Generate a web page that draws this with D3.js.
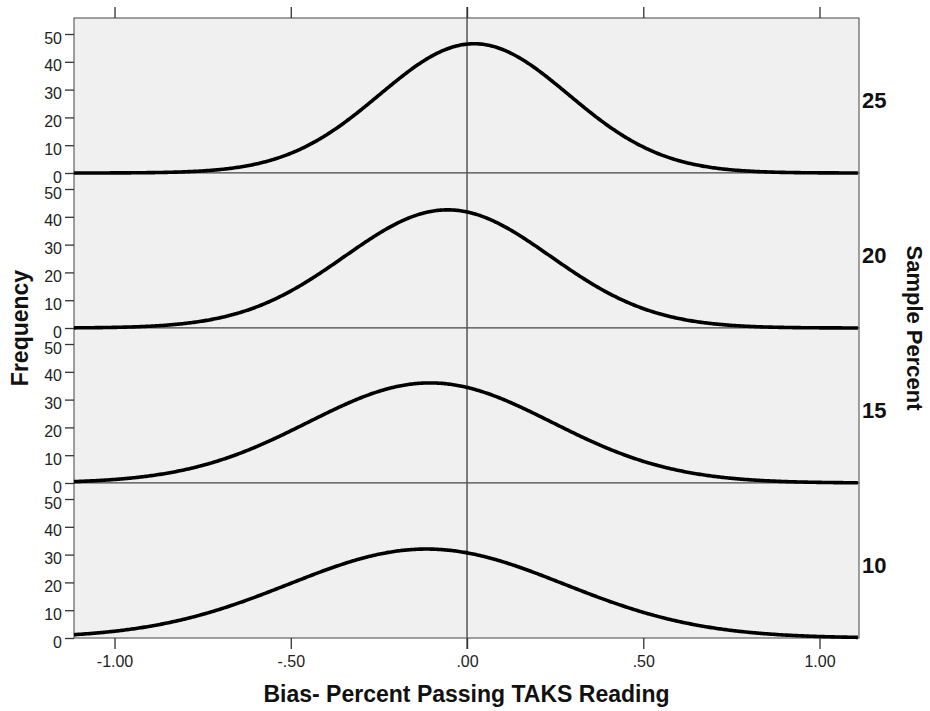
<!DOCTYPE html>
<html>
<head>
<meta charset="utf-8">
<script src="https://cdn.jsdelivr.net/npm/d3@7"></script>
<style>
  html, body { margin: 0; padding: 0; background: #ffffff; }
  svg { display: block; font-family: "Liberation Sans", Arial, sans-serif; }
</style>
</head>
<body>
<svg id="chart" width="930" height="711"></svg>
<script>
// Sample-percent panels, top to bottom
const samplePercents = ["25", "20", "15", "10"];
// Fitted normal curve for each panel: mean, standard deviation, peak frequency
const curveMeans = [0.02, -0.055, -0.105, -0.115];
const curveSDs = [0.268, 0.292, 0.346, 0.39];
const curvePeaks = [46.5, 42.5, 36, 32];
// Axis ticks
const xTicks = [-1, -0.5, 0, 0.5, 1];
const xTickLabels = ["-1.00", "-.50", ".00", ".50", "1.00"];
const yTicks = [0, 10, 20, 30, 40, 50];

const svg = d3.select("#chart");
const plotLeft = 74, plotRight = 859, plotTop = 18, panelH = 155;
const plotBottom = plotTop + panelH * samplePercents.length;

const x = d3.scaleLinear().domain([-1.115, 1.112]).range([plotLeft, plotRight]);

const panels = samplePercents.map((label, i) => ({
  label,
  mean: curveMeans[i],
  sd: curveSDs[i],
  peak: curvePeaks[i],
  y0: plotTop + i * panelH
}));

// Panel backgrounds
svg.selectAll("rect.panel").data(panels).join("rect")
  .attr("class", "panel")
  .attr("x", plotLeft).attr("y", d => d.y0)
  .attr("width", plotRight - plotLeft).attr("height", panelH)
  .attr("fill", "#f0f0f0")
  .attr("stroke", "#444").attr("stroke-width", 1);

// Reference line at zero bias
svg.append("line")
  .attr("x1", x(0)).attr("x2", x(0))
  .attr("y1", plotTop - 11).attr("y2", plotBottom + 11)
  .attr("stroke", "#555").attr("stroke-width", 1.5);

const xs = d3.range(x.domain()[0], x.domain()[1] + 0.0001, 0.004);

panels.forEach(p => {
  const y = d3.scaleLinear().domain([0, 55.76]).range([p.y0 + panelH, p.y0]);
  const g = svg.append("g");

  // Frequency axis
  const ya = g.append("g")
    .attr("transform", `translate(${plotLeft},0)`)
    .call(d3.axisLeft(y).tickValues(yTicks).tickSize(9).tickPadding(3).tickFormat(d3.format("d")));
  ya.select(".domain").remove();
  ya.selectAll(".tick line").attr("stroke", "#333").attr("stroke-width", 1.3);
  ya.selectAll(".tick text")
    .attr("font-size", 16).attr("fill", "#222")
    .attr("font-family", "Liberation Sans, Arial, sans-serif")
    .attr("dy", null).attr("y", 9);

  // Normal curve
  const pts = xs.map(v => [v, p.peak * Math.exp(-((v - p.mean) ** 2) / (2 * p.sd * p.sd))]);
  g.append("path")
    .datum(pts)
    .attr("d", d3.line().x(d => x(d[0])).y(d => y(d[1])).curve(d3.curveLinear))
    .attr("fill", "none").attr("stroke", "#000").attr("stroke-width", 3.6);

  // Panel label
  g.append("text")
    .attr("x", 862).attr("y", p.y0 + panelH / 2 + 12)
    .attr("font-size", 22).attr("font-weight", "bold").attr("fill", "#111")
    .text(p.label);
});

// Top ticks
const xt = svg.append("g")
  .attr("transform", `translate(0,${plotTop})`)
  .call(d3.axisTop(x).tickValues(xTicks).tickSize(11).tickFormat(""));
xt.select(".domain").remove();
xt.selectAll(".tick line").attr("stroke", "#333").attr("stroke-width", 1.3);

// Bottom axis
const xb = svg.append("g")
  .attr("transform", `translate(0,${plotBottom})`)
  .call(d3.axisBottom(x).tickValues(xTicks).tickSize(11).tickPadding(0)
    .tickFormat((d, i) => xTickLabels[i]));
xb.select(".domain").remove();
xb.selectAll(".tick line").attr("stroke", "#333").attr("stroke-width", 1.3);
xb.selectAll(".tick text")
  .attr("font-size", 16).attr("fill", "#222")
  .attr("font-family", "Liberation Sans, Arial, sans-serif")
  .attr("dy", null).attr("y", 29);

// Axis titles
svg.append("text")
  .attr("x", (plotLeft + plotRight) / 2).attr("y", 702)
  .attr("text-anchor", "middle")
  .attr("font-size", 23).attr("font-weight", "bold").attr("fill", "#111")
  .text("Bias- Percent Passing TAKS Reading");

svg.append("text")
  .attr("transform", `translate(28,${(plotTop + plotBottom) / 2}) rotate(-90)`)
  .attr("text-anchor", "middle")
  .attr("font-size", 23).attr("font-weight", "bold").attr("fill", "#111")
  .text("Frequency");

svg.append("text")
  .attr("transform", `translate(907,${(plotTop + plotBottom) / 2}) rotate(90)`)
  .attr("text-anchor", "middle")
  .attr("font-size", 22).attr("font-weight", "bold").attr("fill", "#111")
  .text("Sample Percent");
</script>
</body>
</html>
